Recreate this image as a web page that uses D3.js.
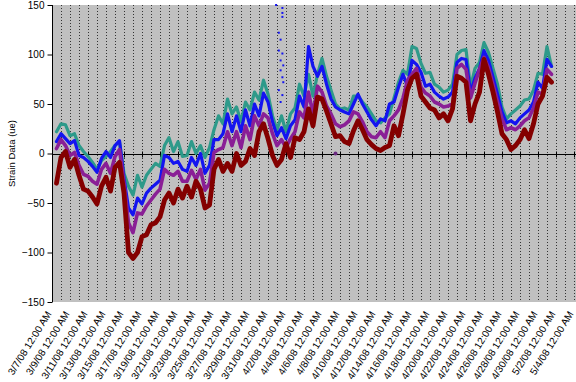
<!DOCTYPE html>
<html lang="en">
	<head>
		<meta charset="UTF-8">
		<title>Strain Data</title>
		<script src="https://d3js.org/d3.v7.min.js"></script>
		<style>
			body { margin: 0; background: white; }
			text { font-family: Arial, 'Liberation Sans', sans-serif; fill: #000; }
		</style>
	</head>
	<body>
		<div id="chart"></div>
		<script>
			// days after 3/7/08 12:00 AM
			var days = [0.5,1,1.5,2,2.5,3,3.5,4,4.5,5,5.5,6,6.5,7,7.5,8,8.5,9,9.5,10,
				10.5,11,11.5,12,12.5,13,13.5,14,14.5,15,15.5,16,16.5,17,17.5,18,18.5,19,19.5,20,
				20.5,21,21.5,22,22.5,23,23.5,24,24.5,25,25.5,26,26.5,27,27.5,28,28.5,29,29.5,30,
				30.5,31,31.5,32,32.5,33,33.5,34,34.5,35,35.5,36,36.5,37,37.5,38,38.5,39,39.5,40,
				40.5,41,41.5,42,42.5,43,43.5,44,44.5,45,45.5,46,46.5,47,47.5,48,48.5,49,49.5,50,
				50.5,51,51.5,52,52.5,53,53.5,54,54.5,55,55.5];

			var teal = [22,30,29,18,20,8,2,-3,-9,-16, -7,-3,2,8,12,-20,-33,-42,-22,-34,
				-22,-16,-10,-13,8,16,2,12,-3,-2, 12,0,8,-4,6,24,38,30,55,40,
				47,32,52,44,62,54,74,60,38,24, 38,22,40,46,70,58,80,58,80,96,
				78,64,50,45,46,44,58,58,52,47, 40,33,31,36,40,56,72,84,80,108,
				106,91,81,82,70,67,62,64,70,100, 104,105,67,86,92,112,102,86,70,47,
				35,40,44,48,54,55,64,81,80,108, 88];

			var blue = [12,20,15,10,13,-2,-4,-8,-13,-19, -5,2,-4,8,13,-25,-55,-62,-45,-51,
				-40,-35,-31,-27,-2,-4,-10,-8,-16,-18, -4,-12,0,-20,-12,14,14,20,40,22,
				38,22,44,28,50,38,61,52,32,18, 26,15,28,34,58,47,108,88,78,88,
				70,55,47,44,42,40,50,60,50,42, 34,28,35,33,50,52,67,80,68,94,
				90,82,68,70,62,58,55,57,62,92, 96,95,62,76,86,104,94,77,60,42,
				31,33,30,36,40,44,52,72,66,95, 88];

			var purple = [5,14,8,-2,1,-12,-21,-23,-28,-31, -16,-10,-20,-3,4,-30,-70,-80,-60,-61,
				-53,-47,-41,-36,-16,-20,-22,-18,-28,-28, -17,-26,-16,-37,-30,1,4,6,22,8,
				22,6,28,14,38,28,40,36,20,8, 14,6,15,22,42,36,62,40,68,62,
				48,40,30,27,29,33,42,40,32,22, 17,16,22,16,33,38,44,56,74,80,
				86,67,61,58,52,50,47,48,50,86, 90,85,56,71,85,97,87,70,52,35,
				24,26,24,28,33,36,46,62,60,85, 80];

			var maroon = [-30,-4,2,-14,-6,-22,-36,-38,-44,-51, -33,-24,-38,-14,-9,-40,-100,-106,-100,-84,
				-82,-72,-70,-64,-47,-40,-50,-36,-45,-33, -44,-28,-36,-55,-52,-16,-6,-18,-10,-18,
				0,-12,-8,5,-2,22,30,15,-2,-12, -6,10,-4,16,14,22,45,28,57,55,
				43,30,17,18,12,10,23,33,24,14, 9,5,3,6,8,28,18,40,64,76,
				80,58,52,46,44,36,40,33,45,78, 76,72,33,50,62,95,80,62,42,20,
				14,4,8,14,24,15,30,50,58,77, 72];

			// stray readings
			var blueSpikeDays = [24.9,25.6,25.6,25.6,25.2,25.4,25.2,25.6,25.4,25.7,25.4,25.6,25.7,25.2,25.6,25.4];
			var blueSpikeValues = [150,147,142,138,122,115,104,101,94,89,84,77,72,64,59,52];
			var purpleDotDays = [31.5];
			var purpleDotValues = [0];

			var yTicks = [-150,-100,-50,0,50,100,150];

			var width = 576, height = 382;
			var plotLeft = 52, plotRight = 574, plotTop = 5, plotBottom = 302;

			var start = Date.UTC(2008, 2, 7);
			var dayMs = 24 * 3600 * 1000;
			function toDate(d) { return new Date(start + d * dayMs); }

			var x = d3.scaleUtc()
				.domain([toDate(0), toDate(58)])
				.range([plotLeft, plotRight]);
			var y = d3.scaleLinear()
				.domain([-150, 150])
				.range([plotBottom, plotTop]);

			var svg = d3.select("#chart")
				.append("svg")
				.attr("width", width)
				.attr("height", height);

			svg.append("rect")
				.attr("x", plotLeft).attr("y", plotTop)
				.attr("width", plotRight - plotLeft + 2).attr("height", plotBottom - plotTop)
				.attr("fill", "#c0c0c0");

			// daily dotted gridlines
			var gridDays = d3.utcDay.range(toDate(1), toDate(58.5));
			svg.append("g")
				.selectAll("line")
				.data(gridDays)
				.enter()
				.append("line")
				.attr("x1", function (d) { return Math.round(x(d)) + 0.5; })
				.attr("x2", function (d) { return Math.round(x(d)) + 0.5; })
				.attr("y1", plotTop)
				.attr("y2", plotBottom)
				.attr("stroke", "#333")
				.attr("stroke-width", 1)
				.attr("stroke-dasharray", "1,2");

			// zero line with ticks every two days
			var labelDays = d3.utcDay.range(toDate(0), toDate(58.5), 2);
			svg.append("line")
				.attr("x1", plotLeft).attr("x2", plotRight + 2)
				.attr("y1", Math.round(y(0)) + 0.5).attr("y2", Math.round(y(0)) + 0.5)
				.attr("stroke", "#000");
			svg.append("g")
				.selectAll("line")
				.data(labelDays)
				.enter()
				.append("line")
				.attr("x1", function (d) { return Math.round(x(d)) + 0.5; })
				.attr("x2", function (d) { return Math.round(x(d)) + 0.5; })
				.attr("y1", y(0) - 2)
				.attr("y2", y(0) + 4)
				.attr("stroke", "#000");

			// series
			var series = [
				{ values: teal, color: "#2e9a8a", w: 3.2 },
				{ values: blue, color: "#1414f0", w: 3.2 },
				{ values: purple, color: "#8a1f96", w: 3.6 },
				{ values: maroon, color: "#840000", w: 4.8 }
			];
			var line = d3.line()
				.x(function (d, i) { return x(toDate(days[i])); })
				.y(function (d) { return y(d); });

			svg.append("g")
				.selectAll("path")
				.data(series)
				.enter()
				.append("path")
				.attr("d", function (s) { return line(s.values); })
				.attr("fill", "none")
				.attr("stroke", function (s) { return s.color; })
				.attr("stroke-width", function (s) { return s.w; })
				.attr("stroke-linejoin", "round")
				.attr("stroke-linecap", "round");

			svg.append("g")
				.selectAll("rect")
				.data(blueSpikeValues)
				.enter()
				.append("rect")
				.attr("x", function (d, i) { return x(toDate(blueSpikeDays[i])) - 1; })
				.attr("y", function (d) { return y(d) - 1; })
				.attr("width", 2).attr("height", 2)
				.attr("fill", "#1414f0");

			svg.append("g")
				.selectAll("circle")
				.data(purpleDotValues)
				.enter()
				.append("circle")
				.attr("cx", function (d, i) { return x(toDate(purpleDotDays[i])); })
				.attr("cy", function (d) { return y(d); })
				.attr("r", 2)
				.attr("fill", "#6a2a80");

			// y axis
			var yAxis = svg.append("g")
				.attr("transform", "translate(" + (plotLeft + 0.5) + ",0)")
				.call(d3.axisLeft(y).tickValues(yTicks).tickSize(5).tickPadding(3).tickFormat(d3.format("d")));
			yAxis.selectAll("path, line").attr("stroke", "#000");
			yAxis.select(".domain").attr("d", "M0," + plotTop + "V" + plotBottom);
			yAxis.selectAll("text")
				.attr("font-size", "10px")
				.attr("fill", "#222")
				.attr("font-family", "Arial, 'Liberation Sans', sans-serif");

			svg.append("text")
				.attr("transform", "translate(15," + y(0) + ") rotate(-90)")
				.attr("text-anchor", "middle")
				.attr("font-size", "9.5px")
				.attr("fill", "#222")
				.text("Strain Data (ue)");

			// rotated date labels
			var fmt = d3.utcFormat("%-m/%-d/%y %-I:%M %p");
			svg.append("g")
				.selectAll("text")
				.data(labelDays)
				.enter()
				.append("text")
				.attr("transform", function (d) { return "translate(" + (x(d) - 3) + ",312) rotate(-58)"; })
				.attr("text-anchor", "end")
				.attr("dy", "0.35em")
				.attr("font-size", "10px")
				.attr("fill", "#222")
				.text(function (d) { return fmt(d); });
		</script>
	</body>
</html>
